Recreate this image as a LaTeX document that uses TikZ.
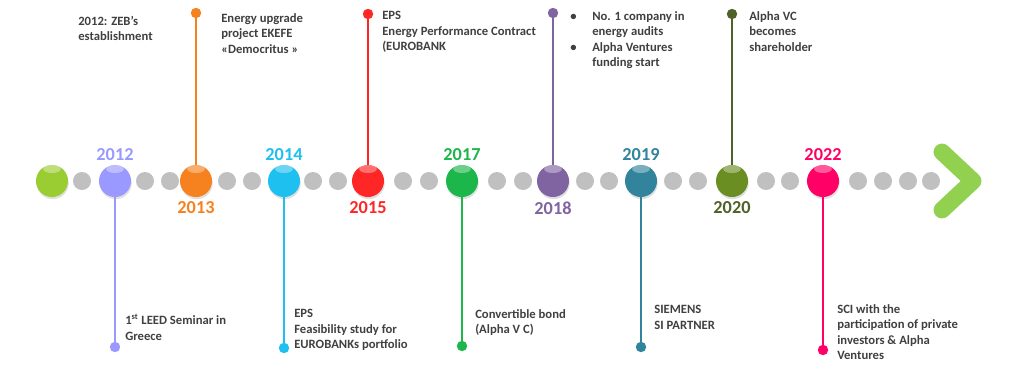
\documentclass[tikz,border=0pt]{standalone}
\usepackage{fontspec}
\setmainfont{Carlito}
\usepackage{xcolor}
\usetikzlibrary{positioning}
\usetikzlibrary{shadows}
\definecolor{textgray}{HTML}{404040}
\definecolor{dotgray}{HTML}{C0C0C0}
\definecolor{cLime}{HTML}{9ACD32}
\definecolor{cLav}{HTML}{9999FF}
\definecolor{cOrange}{HTML}{F5821F}
\definecolor{cCyan}{HTML}{1EC0F0}
\definecolor{cRed}{HTML}{FF2626}
\definecolor{cGreen}{HTML}{1DB64A}
\definecolor{cPurple}{HTML}{8064A2}
\definecolor{cTeal}{HTML}{31849B}
\definecolor{cOlive}{HTML}{4F6228}
\definecolor{cOliveBall}{HTML}{6B8E23}
\definecolor{cPink}{HTML}{FF0066}
\definecolor{cChev}{HTML}{92D050}
\tikzset{
  bola/.style={circle, minimum size=0.8cm, inner sep=0pt, fill=#1,
    drop shadow={opacity=0.25, shadow xshift=0.5pt, shadow yshift=-1.5pt},
    path picture={\fill[white, opacity=0.35] ([yshift=-0.1cm]path picture bounding box.north) ellipse (0.22cm and 0.1cm);}},
  ponto/.style={circle, minimum size=0.45cm, inner sep=0pt, fill=dotgray},
  fim/.style={circle, minimum size=0.26cm, inner sep=0pt, fill=#1},
  haste/.style={line width=1.4pt, #1},
  ano/.style={font=\fontsize{13}{14}\selectfont\bfseries, text=#1, inner sep=1pt},
  nota/.style={anchor=north west, align=left, inner sep=0pt, text=textgray, font=\fontsize{9}{11}\selectfont\bfseries},
}

\begin{document}
\begin{tikzpicture}[x=0.025cm, y=-0.025cm, node distance=2pt]
  \useasboundingbox[fill=white] (0,0) rectangle (1024,368);

  % pontos cinzentos da linha
  \foreach \x [count=\i] in {82,145,170,227,252,313,338,403,429,497,523,585,609,673,698,766,790,858,883,908,931}
    \node[ponto] (g\i) at (\x,181) {};

  % pontas das hastes
  \node[fim=cLav] (e2012) at (115,347) {};
  \node[fim=cOrange] (e2013) at (196,13) {};
  \node[fim=cCyan] (e2014) at (284,348) {};
  \node[fim=cRed] (e2015) at (368,14) {};
  \node[fim=cGreen] (e2017) at (462,346) {};
  \node[fim=cPurple] (e2018) at (553,13) {};
  \node[fim=cTeal] (e2019) at (641,347) {};
  \node[fim=cOlive] (e2020) at (732,14) {};
  \node[fim=cPink] (e2022) at (823,350) {};

  % bolas
  \node[bola=cLime] (b0) at (52,181) {};
  \node[bola=cLav] (b2012) at (115,181) {};
  \node[bola=cOrange] (b2013) at (196,181) {};
  \node[bola=cCyan] (b2014) at (284,181) {};
  \node[bola=cRed] (b2015) at (368,181) {};
  \node[bola=cGreen] (b2017) at (462,181) {};
  \node[bola=cPurple] (b2018) at (553,181) {};
  \node[bola=cTeal] (b2019) at (641,181) {};
  \node[bola=cOliveBall] (b2020) at (732,181) {};
  \node[bola=cPink] (b2022) at (823,181) {};

  \draw[haste=cLav] (b2012) -- (e2012.center);
  \draw[haste=cOrange] (b2013) -- (e2013.center);
  \draw[haste=cCyan] (b2014) -- (e2014.center);
  \draw[haste=cRed] (b2015) -- (e2015.center);
  \draw[haste=cGreen] (b2017) -- (e2017.center);
  \draw[haste=cPurple] (b2018) -- (e2018.center);
  \draw[haste=cTeal] (b2019) -- (e2019.center);
  \draw[haste=cOlive] (b2020) -- (e2020.center);
  \draw[haste=cPink] (b2022) -- (e2022.center);

  % anos
  \node[ano=cLav, above=of b2012] (a2012) {2012};
  \node[ano=cOrange, below=of b2013] (a2013) {2013};
  \node[ano=cCyan, above=of b2014] (a2014) {2014};
  \node[ano=cRed, below=of b2015] (a2015) {2015};
  \node[ano=cGreen, above=of b2017] (a2017) {2017};
  \node[ano=cPurple, below=of b2018] (a2018) {2018};
  \node[ano=cTeal, above=of b2019] (a2019) {2019};
  \node[ano=cOlive, below=of b2020] (a2020) {2020};
  \node[ano=cPink, above=of b2022] (a2022) {2022};

  % seta final
  \draw[cChev, line width=12pt, line cap=round, line join=round] (942,152) -- (973,181) -- (942,210);

  % textos de cima
  \node[nota] (t2012) at (78,16) {2012: ZEB's\\establishment};
  \node[nota] (t2013) at (221,13) {Energy upgrade\\project EKEFE\\«Democritus »};
  \node[nota] (t2015) at (382,11) {EPS\\Energy Performance Contract\\(EUROBANK};
  \node[nota] (t2018) at (570,11) {\makebox[0.55cm][l]{\textbullet}No. 1 company in\\\hspace*{0.55cm}energy audits\\\makebox[0.55cm][l]{\textbullet}Alpha Ventures\\\hspace*{0.55cm}funding start};
  \node[nota] (t2020) at (749,11) {Alpha VC\\becomes\\shareholder};

  % textos de baixo
  \node[nota] (t2012b) at (125,314) {1\textsuperscript{st} LEED Seminar in\\Greece};
  \node[nota] (t2014) at (294,309) {EPS\\Feasibility study for\\EUROBANKs portfolio};
  \node[nota] (t2017) at (475,309) {Convertible bond\\(Alpha V C)};
  \node[nota] (t2019) at (654,305) {SIEMENS\\SI PARTNER};
  \node[nota] (t2022) at (837,304) {SCI with the\\participation of private\\investors \& Alpha\\Ventures};
\end{tikzpicture}
\end{document}
